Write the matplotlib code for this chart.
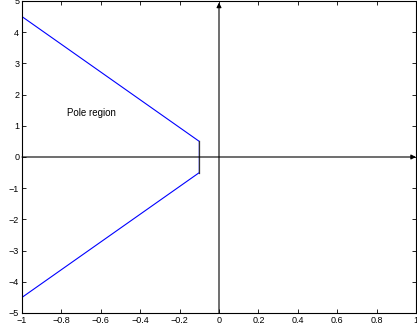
import matplotlib
matplotlib.use('Agg')
import matplotlib.pyplot as plt

# boundary of the pole region
bound_x = [-1.0, -0.1, -0.1, -1.0]
bound_y = [4.5, 0.5, -0.5, -4.5]

x_ticks = [-1, -0.8, -0.6, -0.4, -0.2, 0, 0.2, 0.4, 0.6, 0.8, 1]
x_labels = ['\u22121', '\u22120.8', '\u22120.6', '\u22120.4', '\u22120.2', '0', '0.2', '0.4', '0.6', '0.8', '1']
y_ticks = [-5, -4, -3, -2, -1, 0, 1, 2, 3, 4, 5]
y_labels = ['\u22125', '\u22124', '\u22123', '\u22122', '\u22121', '0', '1', '2', '3', '4', '5']

plt.rcParams['font.family'] = ['Liberation Sans', 'DejaVu Sans']
plt.rcParams['font.size'] = 6.5

fig = plt.figure(figsize=(4.17, 3.31), dpi=100)
ax = fig.add_axes([22 / 417, 18 / 331, 394 / 417, 312 / 331])

ax.plot(bound_x, bound_y, color='#0000ff', linewidth=0.8)
ax.plot(bound_x[1:3], bound_y[1:3], color='#333333', linewidth=0.9)

# coordinate axes with arrows
ax.annotate('', xy=(1, 0), xytext=(-1, 0),
            arrowprops=dict(arrowstyle='-|>', color='k', lw=0.8, mutation_scale=7,
                            shrinkA=0, shrinkB=0))
ax.annotate('', xy=(0, 4.95), xytext=(0, -5),
            arrowprops=dict(arrowstyle='-|>', color='k', lw=0.8, mutation_scale=7,
                            shrinkA=0, shrinkB=0))

ax.text(-0.77, 1.4, 'Pole region', fontsize=7, va='center', ha='left')

ax.set_xlim(-1, 1)
ax.set_ylim(-5, 5)
ax.set_xticks(x_ticks)
ax.set_xticklabels(x_labels)
ax.set_yticks(y_ticks)
ax.set_yticklabels(y_labels)
ax.tick_params(direction='in', top=True, right=True, length=3, width=0.6, pad=2)
for s in ax.spines.values():
    s.set_linewidth(0.8)

fig.savefig('out.png', dpi=100)
